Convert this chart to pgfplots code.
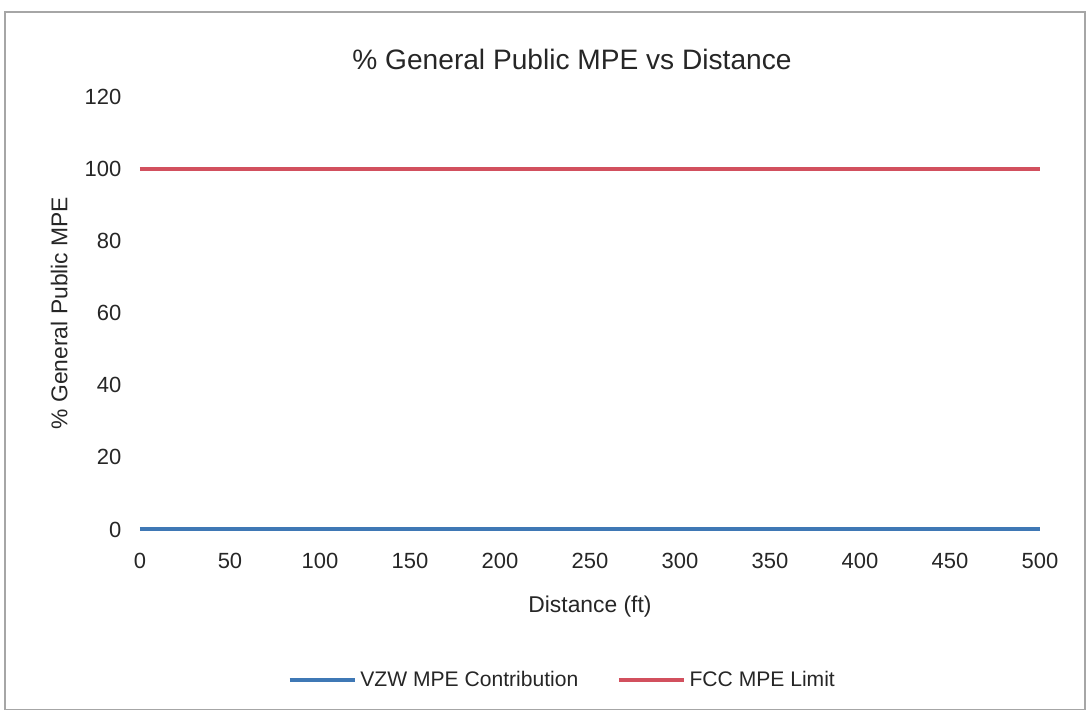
\documentclass[border=0pt]{standalone}
\usepackage{fontspec}
\setmainfont{Liberation Sans}
\usepackage{pgfplots}
\pgfplotsset{compat=1.18}
\definecolor{vzwblue}{HTML}{3F78B5}
\definecolor{fccred}{HTML}{D2505E}
\definecolor{txt}{HTML}{262626}
\begin{document}
\begin{tikzpicture}
% page size and chart frame
\path[use as bounding box] (-2.8cm,-3.85cm) rectangle (19.0cm,10.59cm);
\draw[gray!70, line width=0.6pt] (-2.7cm,-3.6cm) rectangle (18.9cm,10.35cm);
\begin{axis}[
    at={(0,0)}, anchor=origin,
    scale only axis,
    width=18cm, height=8.66cm,
    xmin=0, xmax=500, ymin=0, ymax=120,
    xtick={0,50,...,500}, ytick={0,20,...,120},
    axis line style={draw=none},
    tick style={draw=none},
    clip=false,
    font=\fontsize{12.5}{14}\selectfont,
    ticklabel style={text=txt},
    /pgf/number format/assume math mode=true,
    xticklabel style={yshift=-0.35cm},
    yticklabel style={xshift=-0.25cm},
    xlabel={Distance (ft)},
    xlabel style={font=\fontsize{13}{15}\selectfont, text=txt, yshift=-0.3cm},
    ylabel={\% General Public MPE},
    ylabel style={font=\fontsize{13}{15}\selectfont, text=txt, yshift=0.1cm},
    title={\% General Public MPE vs Distance},
    title style={font=\fontsize{16}{18}\selectfont, text=txt, at={(0.48,1)}, yshift=0.2cm},
    legend columns=2,
    legend style={at={(0.47,-0.31)}, anchor=north, draw=none, fill=none,
        font=\fontsize{12}{14}\selectfont, text=txt,
        /tikz/every even column/.append style={column sep=0.7cm}},
    legend image code/.code={\draw[#1] (0cm,0cm) -- (1.3cm,0cm);},
]
\addplot[vzwblue, line width=2.4pt] coordinates {
    (0,0.2) (50,0.2) (100,0.2) (150,0.2) (200,0.2) (250,0.2)
    (300,0.2) (350,0.2) (400,0.2) (450,0.2) (500,0.2)};
\addlegendentry{VZW MPE Contribution}
\addplot[fccred, line width=2.4pt] coordinates {
    (0,100) (50,100) (100,100) (150,100) (200,100) (250,100)
    (300,100) (350,100) (400,100) (450,100) (500,100)};
\addlegendentry{FCC MPE Limit}
\end{axis}
\end{tikzpicture}
\end{document}
